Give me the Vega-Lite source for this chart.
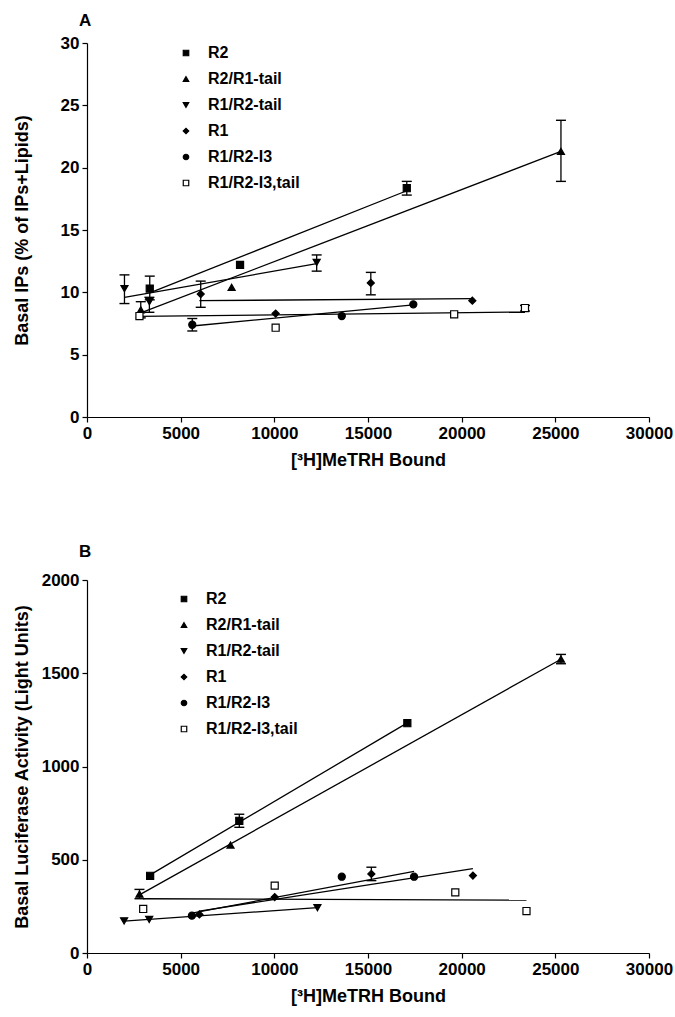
{
  "$schema": "https://vega.github.io/schema/vega-lite/v6.json",
  "background": "white",
  "padding": {"left": 13, "top": 12, "right": 5, "bottom": 3},
  "spacing": 74,
  "config": {
    "font": "Liberation Sans",
    "view": {"stroke": null},
    "axis": {"grid": false, "domainColor": "black", "tickColor": "black", "labelColor": "black", "titleColor": "black", "labelFont": "Liberation Sans", "titleFont": "Liberation Sans", "labelFontWeight": "bold", "labelFontSize": 17, "titleFontSize": 18, "titleFontWeight": "bold", "tickSize": 5, "domainWidth": 1.2, "tickWidth": 1.2, "labelPadding": 3, "labelFlush": false},
    "legend": {"orient": "none", "title": null, "labelFont": "Liberation Sans", "labelFontSize": 16, "labelFontWeight": "bold", "labelColor": "black", "symbolSize": 30, "symbolStrokeWidth": 1.2, "rowPadding": 10, "labelOffset": 14},
    "title": {"font": "Liberation Sans", "fontSize": 17, "fontWeight": "bold", "color": "black", "anchor": "start", "frame": "group"}
  },
  "datasets": {
    "ptsA": [
      {"series": "R2", "x": 3350, "y": 10.3, "lo": 9.4, "hi": 11.3},
      {"series": "R2", "x": 8170, "y": 12.2},
      {"series": "R2", "x": 17070, "y": 18.35, "lo": 17.8, "hi": 18.9},
      {"series": "R2/R1-tail", "x": 2870, "y": 8.6, "lo": 7.95, "hi": 9.25},
      {"series": "R2/R1-tail", "x": 7720, "y": 10.4},
      {"series": "R2/R1-tail", "x": 25300, "y": 21.3, "lo": 18.9, "hi": 23.8},
      {"series": "R1/R2-tail", "x": 2000, "y": 10.3, "lo": 9.1, "hi": 11.4},
      {"series": "R1/R2-tail", "x": 3330, "y": 9.25, "lo": 8.4, "hi": 9.6},
      {"series": "R1/R2-tail", "x": 12260, "y": 12.4, "lo": 11.7, "hi": 13.0},
      {"series": "R1", "x": 6070, "y": 9.86, "lo": 8.8, "hi": 10.9},
      {"series": "R1", "x": 10070, "y": 8.3},
      {"series": "R1", "x": 15150, "y": 10.75, "lo": 9.8, "hi": 11.6},
      {"series": "R1", "x": 20570, "y": 9.33},
      {"series": "R1/R2-I3", "x": 5620, "y": 7.4, "lo": 6.9, "hi": 7.9},
      {"series": "R1/R2-I3", "x": 13600, "y": 8.1},
      {"series": "R1/R2-I3", "x": 17420, "y": 9.04},
      {"series": "R1/R2-I3,tail", "x": 2800, "y": 8.1},
      {"series": "R1/R2-I3,tail", "x": 10070, "y": 7.16},
      {"series": "R1/R2-I3,tail", "x": 19600, "y": 8.24},
      {"series": "R1/R2-I3,tail", "x": 23380, "y": 8.74, "lo": 8.5, "hi": 8.95}
    ],
    "fitsA": [
      {"series": "R2", "x": 3350, "y": 9.95},
      {"series": "R2", "x": 17070, "y": 18.15},
      {"series": "R2/R1-tail", "x": 2870, "y": 8.35},
      {"series": "R2/R1-tail", "x": 25300, "y": 21.3},
      {"series": "R1/R2-tail", "x": 2000, "y": 9.6},
      {"series": "R1/R2-tail", "x": 12260, "y": 12.3},
      {"series": "R1", "x": 6000, "y": 9.33},
      {"series": "R1", "x": 20570, "y": 9.5},
      {"series": "R1/R2-I3", "x": 5620, "y": 7.3},
      {"series": "R1/R2-I3", "x": 17420, "y": 9.0},
      {"series": "R1/R2-I3,tail", "x": 2750, "y": 8.07},
      {"series": "R1/R2-I3,tail", "x": 23380, "y": 8.42}
    ],
    "ptsB": [
      {"series": "R2", "x": 3370, "y": 414},
      {"series": "R2", "x": 8130, "y": 709, "lo": 674, "hi": 744},
      {"series": "R2", "x": 17100, "y": 1232},
      {"series": "R2/R1-tail", "x": 2800, "y": 316, "lo": 291, "hi": 341},
      {"series": "R2/R1-tail", "x": 7660, "y": 579},
      {"series": "R2/R1-tail", "x": 25300, "y": 1576, "lo": 1551, "hi": 1601},
      {"series": "R1/R2-tail", "x": 1980, "y": 172},
      {"series": "R1/R2-tail", "x": 3320, "y": 180},
      {"series": "R1/R2-tail", "x": 12300, "y": 243},
      {"series": "R1", "x": 6000, "y": 207},
      {"series": "R1", "x": 10020, "y": 300},
      {"series": "R1", "x": 15180, "y": 424, "lo": 388, "hi": 460},
      {"series": "R1", "x": 20600, "y": 415},
      {"series": "R1/R2-I3", "x": 5600, "y": 200},
      {"series": "R1/R2-I3", "x": 13600, "y": 409},
      {"series": "R1/R2-I3", "x": 17460, "y": 409},
      {"series": "R1/R2-I3,tail", "x": 3000, "y": 236},
      {"series": "R1/R2-I3,tail", "x": 10020, "y": 361},
      {"series": "R1/R2-I3,tail", "x": 19660, "y": 325},
      {"series": "R1/R2-I3,tail", "x": 23460, "y": 225}
    ],
    "fitsB": [
      {"series": "R2", "x": 3370, "y": 419},
      {"series": "R2", "x": 17100, "y": 1234},
      {"series": "R2/R1-tail", "x": 2800, "y": 312},
      {"series": "R2/R1-tail", "x": 25300, "y": 1575},
      {"series": "R1/R2-tail", "x": 1980, "y": 171},
      {"series": "R1/R2-tail", "x": 12300, "y": 243},
      {"series": "R1", "x": 6000, "y": 225},
      {"series": "R1", "x": 20600, "y": 452},
      {"series": "R1/R2-I3", "x": 5600, "y": 214},
      {"series": "R1/R2-I3", "x": 17460, "y": 438},
      {"series": "R1/R2-I3,tail", "x": 3000, "y": 291},
      {"series": "R1/R2-I3,tail", "x": 23460, "y": 283}
    ]
  },
  "resolve": {"scale": {"shape": "independent", "fill": "independent", "stroke": "independent", "y": "independent"}, "legend": {"shape": "independent", "fill": "independent", "stroke": "independent"}},
  "vconcat": [
    {
      "title": {"text": "A", "dx": -8, "offset": 4},
      "width": 562,
      "height": 374,
      "encoding": {
        "x": {"field": "x", "type": "quantitative", "scale": {"domain": [0, 30000]}, "axis": {"values": [0, 5000, 10000, 15000, 20000, 25000, 30000], "format": "d", "title": "[³H]MeTRH Bound", "titlePadding": 10}}
      },
      "layer": [
        {
          "data": {"name": "fitsA"},
          "mark": {"type": "line", "color": "black", "strokeWidth": 1.3},
          "encoding": {
            "y": {"field": "y", "type": "quantitative", "scale": {"domain": [0, 30]}, "axis": {"values": [0, 5, 10, 15, 20, 25, 30], "format": "d", "title": "Basal IPs (% of IPs+Lipids)", "titlePadding": 29}},
            "detail": {"field": "series"}
          }
        },
        {
          "data": {"name": "ptsA"},
          "transform": [{"filter": "isValid(datum.lo)"}],
          "mark": {"type": "rule", "color": "black", "strokeWidth": 1.3},
          "encoding": {"y": {"field": "lo", "type": "quantitative"}, "y2": {"field": "hi"}}
        },
        {
          "data": {"name": "ptsA"},
          "transform": [{"filter": "isValid(datum.lo)"}],
          "mark": {"type": "tick", "orient": "horizontal", "color": "black", "size": 10, "thickness": 1.4, "opacity": 1},
          "encoding": {"y": {"field": "lo", "type": "quantitative"}}
        },
        {
          "data": {"name": "ptsA"},
          "transform": [{"filter": "isValid(datum.hi)"}],
          "mark": {"type": "tick", "orient": "horizontal", "color": "black", "size": 10, "thickness": 1.4, "opacity": 1},
          "encoding": {"y": {"field": "hi", "type": "quantitative"}}
        },
        {
          "data": {"name": "ptsA"},
          "mark": {"type": "point", "filled": true, "strokeWidth": 1.2, "size": 50, "opacity": 1},
          "encoding": {
            "y": {"field": "y", "type": "quantitative"},
            "shape": {"field": "series", "type": "nominal", "scale": {"domain": ["R2", "R2/R1-tail", "R1/R2-tail", "R1", "R1/R2-I3", "R1/R2-I3,tail"], "range": ["square", "triangle-up", "triangle-down", "diamond", "circle", "square"]}, "legend": {"legendX": 91, "legendY": 2}},
            "fill": {"field": "series", "type": "nominal", "scale": {"domain": ["R2", "R2/R1-tail", "R1/R2-tail", "R1", "R1/R2-I3", "R1/R2-I3,tail"], "range": ["black", "black", "black", "black", "black", "white"]}, "legend": {"legendX": 91, "legendY": 2}},
            "stroke": {"field": "series", "type": "nominal", "scale": {"domain": ["R2", "R2/R1-tail", "R1/R2-tail", "R1", "R1/R2-I3", "R1/R2-I3,tail"], "range": ["black", "black", "black", "black", "black", "black"]}, "legend": {"legendX": 91, "legendY": 2}}
          }
        }
      ]
    },
    {
      "title": {"text": "B", "dx": -8, "offset": 10},
      "width": 562,
      "height": 373,
      "encoding": {
        "x": {"field": "x", "type": "quantitative", "scale": {"domain": [0, 30000]}, "axis": {"values": [0, 5000, 10000, 15000, 20000, 25000, 30000], "format": "d", "title": "[³H]MeTRH Bound", "titlePadding": 10}}
      },
      "layer": [
        {
          "data": {"name": "fitsB"},
          "mark": {"type": "line", "color": "black", "strokeWidth": 1.3},
          "encoding": {
            "y": {"field": "y", "type": "quantitative", "scale": {"domain": [0, 2000]}, "axis": {"values": [0, 500, 1000, 1500, 2000], "format": "d", "title": "Basal Luciferase Activity (Light Units)", "titlePadding": 10}},
            "detail": {"field": "series"}
          }
        },
        {
          "data": {"name": "ptsB"},
          "transform": [{"filter": "isValid(datum.lo)"}],
          "mark": {"type": "rule", "color": "black", "strokeWidth": 1.3},
          "encoding": {"y": {"field": "lo", "type": "quantitative"}, "y2": {"field": "hi"}}
        },
        {
          "data": {"name": "ptsB"},
          "transform": [{"filter": "isValid(datum.lo)"}],
          "mark": {"type": "tick", "orient": "horizontal", "color": "black", "size": 10, "thickness": 1.4, "opacity": 1},
          "encoding": {"y": {"field": "lo", "type": "quantitative"}}
        },
        {
          "data": {"name": "ptsB"},
          "transform": [{"filter": "isValid(datum.hi)"}],
          "mark": {"type": "tick", "orient": "horizontal", "color": "black", "size": 10, "thickness": 1.4, "opacity": 1},
          "encoding": {"y": {"field": "hi", "type": "quantitative"}}
        },
        {
          "data": {"name": "ptsB"},
          "mark": {"type": "point", "filled": true, "strokeWidth": 1.2, "size": 50, "opacity": 1},
          "encoding": {
            "y": {"field": "y", "type": "quantitative"},
            "shape": {"field": "series", "type": "nominal", "scale": {"domain": ["R2", "R2/R1-tail", "R1/R2-tail", "R1", "R1/R2-I3", "R1/R2-I3,tail"], "range": ["square", "triangle-up", "triangle-down", "diamond", "circle", "square"]}, "legend": {"legendX": 89, "legendY": 11}},
            "fill": {"field": "series", "type": "nominal", "scale": {"domain": ["R2", "R2/R1-tail", "R1/R2-tail", "R1", "R1/R2-I3", "R1/R2-I3,tail"], "range": ["black", "black", "black", "black", "black", "white"]}, "legend": {"legendX": 89, "legendY": 11}},
            "stroke": {"field": "series", "type": "nominal", "scale": {"domain": ["R2", "R2/R1-tail", "R1/R2-tail", "R1", "R1/R2-I3", "R1/R2-I3,tail"], "range": ["black", "black", "black", "black", "black", "black"]}, "legend": {"legendX": 89, "legendY": 11}}
          }
        }
      ]
    }
  ]
}
